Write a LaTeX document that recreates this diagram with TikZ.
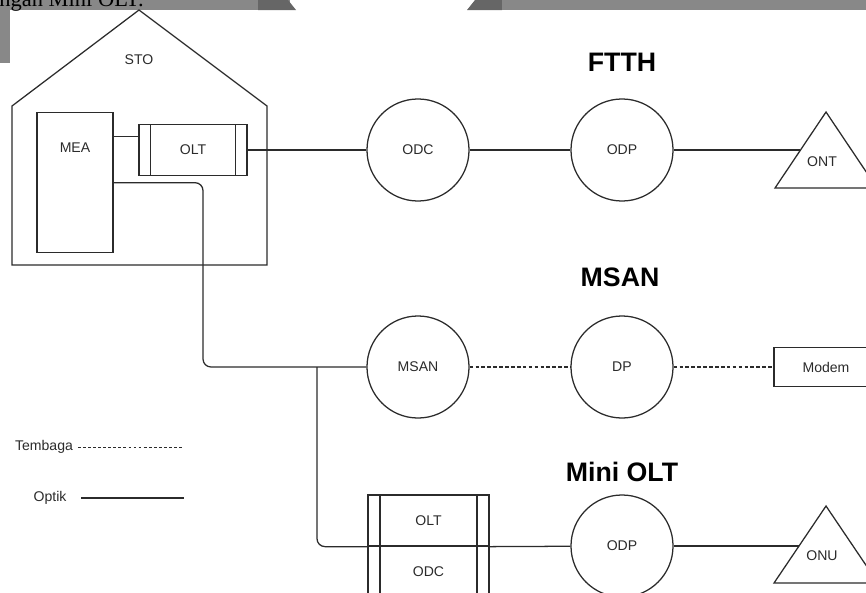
\documentclass[tikz,border=0pt]{standalone}
\usepackage{fontspec}
\setmainfont{Liberation Sans}
\newfontfamily\pageserif{Liberation Serif}
\usetikzlibrary{positioning,calc}
\definecolor{Ink}{HTML}{2B2B2B}
\definecolor{Band}{HTML}{888888}
\definecolor{BandDark}{HTML}{666666}

\tikzset{
  hub/.style={circle,draw=Ink,line width=0.9pt,minimum size=2.55cm,inner sep=0pt},
  boxnode/.style={rectangle,draw=Ink,line width=0.9pt,inner sep=0pt},
  rack/.style={boxnode,path picture={
      \draw[Ink,line width=0.9pt] ([xshift=#1]path picture bounding box.north west) -- ([xshift=#1]path picture bounding box.south west)
        ([xshift=-#1]path picture bounding box.north east) -- ([xshift=-#1]path picture bounding box.south east);}},
  rack/.default=0.28cm,
  wire/.style={draw=Ink,line width=0.9pt},
  copper/.style={wire,dash pattern=on 2.6pt off 1.6pt},
  heading/.style={font=\fontsize{19}{22}\selectfont\bfseries,text=black}
}

\begin{document}
\begin{tikzpicture}[x=0.025cm,y=-0.025cm,every node/.style={font=\fontsize{10}{12}\selectfont,text=Ink}]
  \useasboundingbox (0,0) rectangle (866,592);

  % page edge left over from the scan
  \fill[Band] (0,0) rectangle (290,10);
  \fill[BandDark] (258,0) -- (288,0) -- (296,10) -- (258,10) -- cycle;
  \fill[Band] (0,10) rectangle (10,63);
  \fill[BandDark] (475,0) -- (502,0) -- (502,10) -- (467,10) -- cycle;
  \fill[Band] (502,0) rectangle (866,10);
  \node[anchor=base west,inner sep=0pt,text=black,font=\pageserif\fontsize{16}{18}\selectfont] (pagetext) at (-1,7) {ngan Mini OLT.};

  % STO building
  \draw[wire] (12,265) -- (12,106) -- (139,10) -- (267,106) -- (267,265) -- cycle;
  \node (sto) at (139,60) {STO};
  \node[boxnode,minimum width=1.9cm,minimum height=3.5cm,anchor=north] (mea) at (75,112) {};
  \node (mealabel) at ($(mea.north)+(0,36)$) {MEA};
  \node[rack,minimum width=2.7cm,minimum height=1.275cm] (olt) at (193,150) {OLT};

  % headings
  \node[heading] (ftth) at (622,62) {FTTH};
  \node[heading] (msanhead) at (620,277) {MSAN};
  \node[heading] (minihead) at (622,472) {Mini OLT};

  % circles
  \foreach \name/\x/\y/\txt in {odc/418/150/ODC,odp/622/150/ODP,msan/418/367/MSAN,dp/622/367/DP,odpm/622/546/ODP}{
    \node[hub] (\name) at (\x,\y) {\txt};
  }

  % end devices
  \draw[wire] (826,112) -- (877,188) -- (775,188) -- cycle;
  \node (ont) at (822,162) {ONT};
  \coordinate (ontin) at (800,150);
  \draw[wire] (826,506) -- (878,583) -- (774,583) -- cycle;
  \node (onu) at (822,556) {ONU};
  \coordinate (onuin) at (799,546);
  \node[boxnode,minimum width=2.6cm,minimum height=0.975cm] (modem) at (826,367) {Modem};

  % mini OLT cabinet
  \node[rack=0.3cm,minimum width=3.025cm,minimum height=1.275cm] (bolt) at (428.5,520.5) {OLT};
  \node[rack=0.3cm,minimum width=3.025cm,minimum height=1.275cm] (bodc) at (428.5,571.5) {ODC};

  % links
  \coordinate (oltin) at ([yshift=0.33cm]olt.west);
  \draw[wire] (oltin) -- (oltin -| mea.east);
  \draw[wire] (olt) -- (odc);
  \draw[wire] (odc) -- (odp);
  \draw[wire] (odp) -- (ontin);
  \coordinate (bend) at (203,367);
  \coordinate (split) at (317,367);
  \draw[wire,rounded corners=0.2cm] (mea.east) -| (bend) -- (msan);
  \draw[wire,rounded corners=0.2cm] (split) |- (bolt.south west);
  \draw[wire] (bolt.south east) -- (odpm);
  \draw[wire] (odpm) -- (onuin);
  \draw[copper] (msan) -- (dp);
  \draw[copper] (dp) -- (modem);

  % legend
  \node (tembaga) at (44,447) {Tembaga};
  \coordinate (tbend) at (184,447);
  \draw[copper,line width=0.7pt,dash pattern=on 2pt off 1.6pt] (tembaga.east) -- (tbend);
  \node (optik) at (50,498) {Optik};
  \coordinate (opend) at (184,498);
  \draw[wire] ([xshift=0.25cm]optik.east) -- (opend);
\end{tikzpicture}
\end{document}
